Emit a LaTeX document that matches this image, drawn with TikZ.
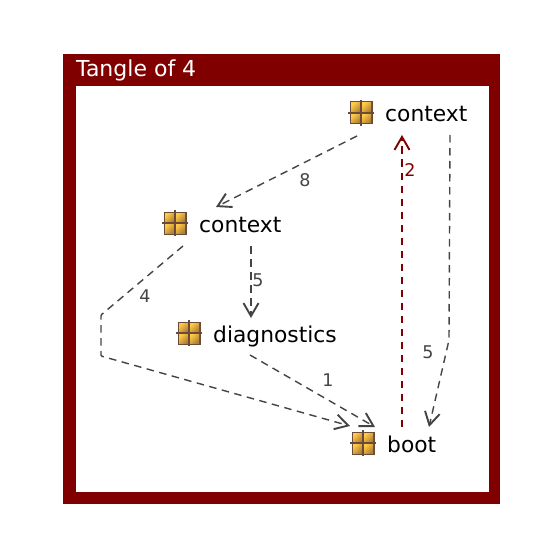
\documentclass[tikz,border=0pt]{standalone}
\usepackage{fontspec}
\setmainfont{DejaVu Sans}
\usetikzlibrary{arrows.meta,calc}
\definecolor{maroon}{HTML}{800000}
\definecolor{edgegrey}{HTML}{444444}
\definecolor{iconbrown}{HTML}{6B4A3A}
\definecolor{iconlight}{HTML}{FFCB45}
\definecolor{icondark}{HTML}{B07F35}
\tikzset{
  x=1pt,y=-1pt,
  framebar/.style={fill=maroon,draw=none},
  title/.style={text=white,font=\fontsize{22}{22}\selectfont,anchor=base west,inner sep=0pt},
  item/.style={font=\fontsize{21.8}{22}\selectfont,anchor=base west,inner sep=0pt,text=black},
  link/.style={draw=edgegrey,line width=1.4pt,dash pattern=on 7.5pt off 5.5pt,rounded corners=1pt},
  linkred/.style={draw=maroon,line width=1.5pt,dash pattern=on 7.5pt off 5.5pt},
  head/.style={-{Straight Barb[length=13pt,width=15pt,line width=1.9pt]}},
  weight/.style={font=\fontsize{17.5}{18}\selectfont,text=edgegrey,inner sep=0pt},
  weightred/.style={font=\fontsize{17.5}{18}\selectfont,text=maroon,inner sep=0pt},
  quad/.style={left color=iconlight,right color=icondark,shading angle=45},
}
\newcommand{\cubeicon}[2]{%
  \begin{scope}[shift={(#1,#2)}]
    \fill[iconbrown] (-11.5,-11.5) rectangle (11.5,11.5);
    \shade[quad] (-10,-10) rectangle (-0.7,-0.7);
    \shade[quad] (0.7,-10) rectangle (10,-0.7);
    \shade[quad] (-10,0.7) rectangle (-0.7,10);
    \shade[quad] (0.7,0.7) rectangle (10,10);
    \draw[iconbrown,line width=1.5pt] (-13,0) -- (13,0) (0,-13) -- (0,13);
  \end{scope}}
\begin{document}
\begin{tikzpicture}
\useasboundingbox (0,0) rectangle (546,548);
\fill[white] (0,0) rectangle (546,548);
% frame
\fill[framebar] (63,54) rectangle (500,86);
\fill[framebar] (63,54) rectangle (75.5,503.5);
\fill[framebar] (489,54) rectangle (500,503.5);
\fill[framebar] (63,492) rectangle (500,503.5);
\node[title] (frametitle) at (76,77) {Tangle of 4};
% icons
\cubeicon{361}{113}
\cubeicon{175}{223}
\cubeicon{189}{333}
\cubeicon{363}{443}
% nodes
\node[item] (ctxa) at (385,122) {context};
\node[item] (ctxb) at (199,232) {context};
\node[item] (diag) at (213,342) {diagnostics};
\node[item] (boot) at (387,452) {boot};
% ports
\coordinate (ctxaL) at (357,136);
\coordinate (ctxaM) at (402,135);
\coordinate (ctxaR) at (450,135);
\coordinate (ctxbI) at (216,207);
\coordinate (ctxbL) at (183,246);
\coordinate (ctxbR) at (251,246);
\coordinate (diagT) at (251,318);
\coordinate (diagB) at (250,355);
\coordinate (bootA) at (350,426);
\coordinate (bootB) at (375,427);
\coordinate (bootC) at (402,427);
\coordinate (bootD) at (429,427);
\coordinate (bendR) at (449,340);
\coordinate (bendLa) at (101,315);
\coordinate (bendLb) at (101,356);
% connectors
\draw[link,head] (ctxaL) -- (ctxbI);
\draw[linkred,head] (bootC) -- (ctxaM);
\draw[link,head] (ctxaR) -- (bendR) -- (bootD);
\draw[link,head] (ctxbL) -- (bendLa) -- (bendLb) -- (bootA);
\draw[link,head] (ctxbR) -- (diagT);
\draw[link,head] (diagB) -- (bootB);
% labels
\node[weight] (w8) at (305,180) {8};
\node[weightred] (w2) at (410,170) {2};
\node[weight] (w5a) at (428,352) {5};
\node[weight] (w4) at (145,296) {4};
\node[weight] (w5b) at (258,280) {5};
\node[weight] (w1) at (328,380) {1};
\end{tikzpicture}
\end{document}
